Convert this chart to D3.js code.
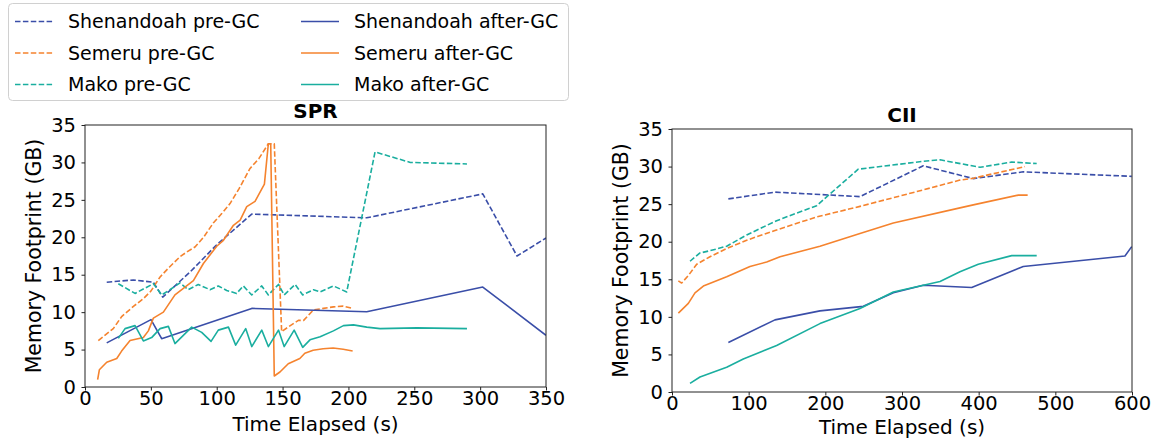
<!DOCTYPE html>
<html>
<head>
<meta charset="utf-8">
<script src="https://cdn.jsdelivr.net/npm/d3@7"></script>
<style>
  body { margin: 0; background: #fff; }
  text { font-family: "DejaVu Sans", sans-serif; fill: #000; }
</style>
</head>
<body>
<svg id="fig" width="1156" height="446"></svg>
<script>
// memory footprint over time, SPR and CII panels

var colShen = "#3a4ea8", colSem = "#f5832e", colMako = "#1aae9f";

// SPR: [time (s), memory (GB)]
var sprShenPre = [[16.5,14.0],[36.7,14.3],[51.9,14.0],[59,12.0],[80,15.4],[100,19.0],[126.6,23.1],[213.9,22.6],[302,25.8],[328,17.5],[350,19.9]];
var sprShenAfter = [[16.5,5.9],[50.1,9.0],[58.2,6.45],[126.6,10.5],[213.9,10.05],[302,13.35],[350,6.9]];
var sprSemPre = [[10.1,6.2],[21.5,7.8],[27.8,9.4],[37,10.8],[44.3,11.8],[50,12.8],[57,14.7],[64,16.0],[72.1,17.4],[77,18.0],[83.5,18.7],[90,20.0],[97.4,21.9],[104,23.2],[110.1,24.5],[117,26.5],[125.3,29.2],[132,30.5],[139.2,32.5],[143.7,32.5],[149.3,7.4],[155,8.1],[162,8.9],[166,8.9],[173.4,10.3],[181,10.5],[188.6,10.7],[196,10.8],[203.2,10.5]];
var sprSemAfter = [[9.6,1.0],[10.9,2.3],[16.5,3.3],[24.1,3.8],[27.8,4.8],[34.2,6.2],[44.3,6.6],[48.1,7.5],[51.9,9.2],[59.5,10.0],[68.3,12.3],[82.3,14.2],[89.9,16.5],[100,18.8],[105.1,19.6],[112.7,21.6],[117.8,22.3],[122.8,24.1],[129.1,24.8],[136.2,27.1],[139.2,32.5],[141,32.5],[143.7,1.47],[148,2.0],[154.3,3.1],[163.1,3.8],[166.9,4.5],[173.2,4.9],[180.8,5.1],[188.4,5.2],[196,5.05],[203.2,4.8]];
var sprMakoPre = [[25.3,13.8],[38,12.5],[51.9,13.8],[58.2,12.3],[64.5,13.0],[72.1,13.9],[78.4,13.0],[86,13.7],[94.9,13.0],[101.2,13.5],[107.6,12.9],[115.1,12.5],[120.2,13.5],[126.6,12.3],[134.2,13.5],[139.2,12.3],[146.9,13.7],[151.2,12.3],[159.5,13.7],[165.3,12.3],[173.4,13.0],[178.5,12.7],[188.6,13.5],[198.7,12.7],[220.2,31.4],[247,30.0],[290,29.8]];
var sprMakoAfter = [[25.3,6.5],[30.4,7.8],[38,8.2],[44.3,6.15],[50.6,6.6],[57,7.8],[63.3,8.1],[68.3,5.8],[81,8.0],[88.6,7.3],[95.7,6.1],[101.2,7.6],[108.9,8.0],[114.4,5.6],[122,7.8],[126.6,5.4],[134.2,7.6],[139.2,5.4],[146.9,7.6],[151.2,5.4],[158.8,7.6],[165.3,5.3],[170.8,6.3],[178.5,6.7],[188.6,7.5],[196.2,8.2],[203.8,8.3],[213.9,8.0],[224,7.8],[252,7.9],[290,7.8]];

// CII: [time (s), memory (GB)]
var ciiShenPre = [[73.5,25.7],[134.3,26.6],[245.2,26.0],[327.8,30.1],[393,28.4],[458.2,29.3],[599.6,28.7]];
var ciiShenAfter = [[73.5,6.6],[134.3,9.6],[193,10.8],[249.5,11.4],[288.7,13.2],[327.8,14.2],[390.9,13.9],[458.2,16.7],[590.8,18.1],[599.6,19.35]];
var ciiSemPre = [[8.3,14.8],[12.6,14.5],[21.3,15.5],[32.2,17.0],[49.5,18.0],[71.3,19.1],[97.4,20.2],[134.3,21.5],[188.7,23.3],[245.2,24.7],[327.8,26.9],[375.6,28.2],[393,28.45],[460.4,30.0]];
var ciiSemAfter = [[8.3,10.5],[21.3,11.8],[30,13.2],[40.9,14.1],[71.3,15.35],[101.7,16.7],[123.5,17.3],[140.9,18.0],[193,19.4],[245.2,21.1],[288.7,22.5],[375.6,24.5],[393,24.9],[451.7,26.2],[463.9,26.2]];
var ciiMakoPre = [[23.5,17.4],[36.5,18.5],[49.5,18.8],[71.3,19.4],[97.4,20.9],[136.5,22.8],[188.7,24.8],[242.9,29.65],[327.8,30.7],[349.6,30.9],[401.8,29.9],[443.1,30.6],[475.7,30.4]];
var ciiMakoAfter = [[23.5,1.15],[36.5,2.0],[71.3,3.3],[93,4.4],[136.5,6.2],[193,9.1],[245.2,11.1],[288.7,13.3],[327.8,14.2],[349.6,14.7],[375.6,16.0],[399.5,17.0],[443.1,18.15],[475.7,18.15]];

var yTicks = [0, 5, 10, 15, 20, 25, 30, 35];
var sprXTicks = [0, 50, 100, 150, 200, 250, 300, 350];
var ciiXTicks = [0, 100, 200, 300, 400, 500, 600];

var legendNames = ["Shenandoah pre-GC", "Semeru pre-GC", "Mako pre-GC",
                   "Shenandoah after-GC", "Semeru after-GC", "Mako after-GC"];

var svg = d3.select("#fig");

function drawPanel(p) {
  var x = d3.scaleLinear().domain([0, p.xMax]).range([p.left, p.right]);
  var y = d3.scaleLinear().domain([0, 35]).range([p.bottom, p.top]);
  var g = svg.append("g");

  var line = d3.line()
    .x(function(d) { return x(d[0]); })
    .y(function(d) { return y(d[1]); });

  g.append("defs").append("clipPath").attr("id", "clip" + p.title)
    .append("rect")
    .attr("x", p.left).attr("y", p.top)
    .attr("width", p.right - p.left).attr("height", p.bottom - p.top);

  var lines = g.append("g").attr("clip-path", "url(#clip" + p.title + ")");
  p.series.forEach(function(s) {
    lines.append("path")
      .attr("d", line(s.data))
      .attr("fill", "none")
      .attr("stroke", s.color)
      .attr("stroke-width", 1.6)
      .attr("stroke-linejoin", "round")
      .attr("stroke-dasharray", s.dashed ? "5.5,2.4" : null);
  });

  // frame
  g.append("rect")
    .attr("x", p.left).attr("y", p.top)
    .attr("width", p.right - p.left).attr("height", p.bottom - p.top)
    .attr("fill", "none").attr("stroke", "#222").attr("stroke-width", 1);

  var xAxis = g.append("g")
    .attr("transform", "translate(0," + p.bottom + ")")
    .call(d3.axisBottom(x).tickValues(p.xTicks).tickSize(3.5).tickPadding(0.5).tickFormat(d3.format("d")));
  var yAxis = g.append("g")
    .attr("transform", "translate(" + p.left + ",0)")
    .call(d3.axisLeft(y).tickValues(yTicks).tickSize(3.5).tickPadding(5.5).tickFormat(d3.format("d")));

  [xAxis, yAxis].forEach(function(a) {
    a.select(".domain").remove();
    a.selectAll("line").attr("stroke", "#222");
    a.selectAll("text").style("font-size", "19.5px").attr("fill", "#000")
      .style("font-family", "'DejaVu Sans', sans-serif");
  });

  g.append("text")
    .attr("x", (p.left + p.right) / 2).attr("y", p.titleY)
    .attr("text-anchor", "middle")
    .style("font-size", "20px").style("font-weight", "bold")
    .text(p.title);

  g.append("text")
    .attr("x", (p.left + p.right) / 2).attr("y", p.xLabelY)
    .attr("text-anchor", "middle")
    .style("font-size", "20px")
    .text("Time Elapsed (s)");

  g.append("text")
    .attr("transform", "translate(" + p.yLabelX + "," + (p.top + p.bottom) / 2 + ") rotate(-90)")
    .attr("text-anchor", "middle")
    .style("font-size", "20.5px")
    .text("Memory Footprint (GB)");
}

drawPanel({
  title: "SPR", left: 85, right: 546, top: 125, bottom: 387, xMax: 350,
  xTicks: sprXTicks, titleY: 118, yLabelX: 41, xLabelY: 431,
  series: [
    { data: sprShenPre, color: colShen, dashed: true },
    { data: sprSemPre, color: colSem, dashed: true },
    { data: sprMakoPre, color: colMako, dashed: true },
    { data: sprShenAfter, color: colShen, dashed: false },
    { data: sprSemAfter, color: colSem, dashed: false },
    { data: sprMakoAfter, color: colMako, dashed: false }
  ]
});

drawPanel({
  title: "CII", left: 672, right: 1132, top: 129, bottom: 392, xMax: 600,
  xTicks: ciiXTicks, titleY: 121.5, yLabelX: 628, xLabelY: 434,
  series: [
    { data: ciiShenPre, color: colShen, dashed: true },
    { data: ciiSemPre, color: colSem, dashed: true },
    { data: ciiMakoPre, color: colMako, dashed: true },
    { data: ciiShenAfter, color: colShen, dashed: false },
    { data: ciiSemAfter, color: colSem, dashed: false },
    { data: ciiMakoAfter, color: colMako, dashed: false }
  ]
});

// legend, two columns of three
var legColors = [colShen, colSem, colMako, colShen, colSem, colMako];
var leg = svg.append("g");
leg.append("rect")
  .attr("x", 8.5).attr("y", 3.5).attr("width", 560).attr("height", 97)
  .attr("rx", 4).attr("fill", "#fff").attr("stroke", "#d0d0d0");

legendNames.forEach(function(name, i) {
  var col = Math.floor(i / 3), row = i % 3;
  var lx = col === 0 ? 15 : 301;
  var ly = 21.5 + row * 31.5;
  leg.append("line")
    .attr("x1", lx).attr("x2", lx + 38).attr("y1", ly).attr("y2", ly)
    .attr("stroke", legColors[i]).attr("stroke-width", 1.6)
    .attr("stroke-dasharray", col === 0 ? "5.5,2.4" : null);
  leg.append("text")
    .attr("x", lx + 53).attr("y", ly).attr("dy", "0.35em")
    .style("font-size", "19px")
    .text(name);
});
</script>
</body>
</html>
